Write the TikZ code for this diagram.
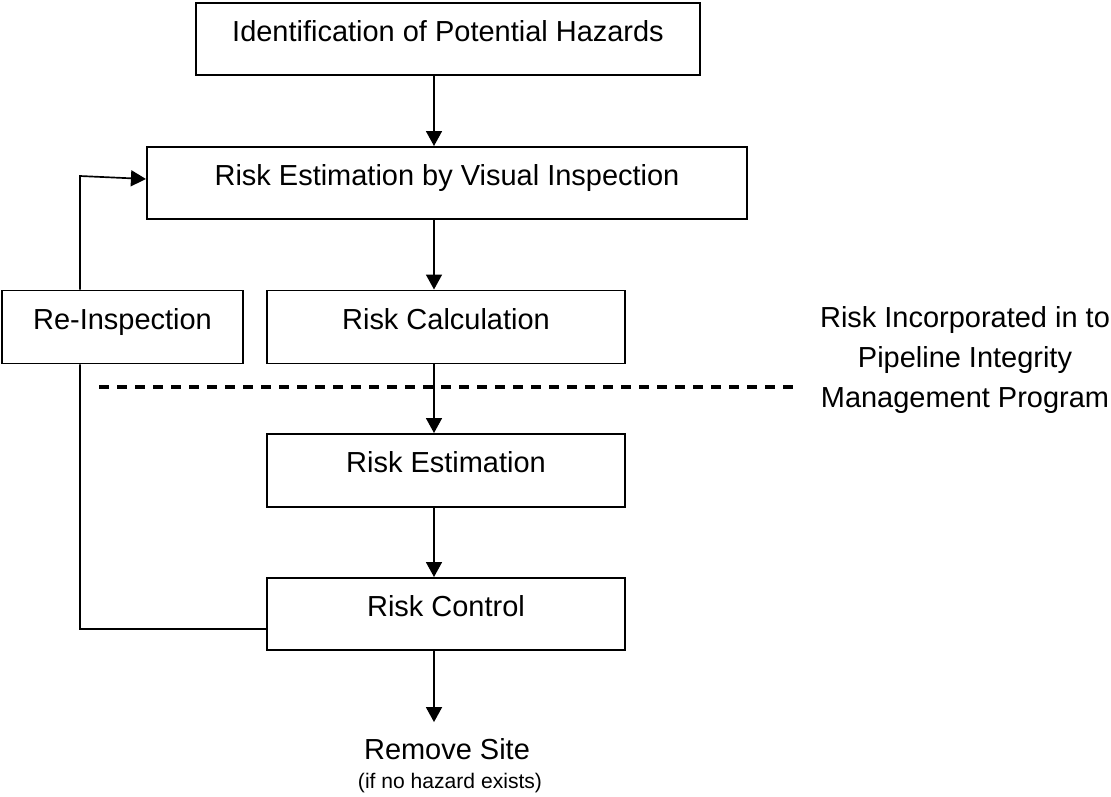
\documentclass[tikz,border=0pt]{standalone}
\usepackage{fontspec}
\setmainfont{Liberation Sans}
\usetikzlibrary{arrows.meta, positioning, calc}

\begin{document}
\begin{tikzpicture}[x=0.025cm, y=-0.025cm,
    box/.style={draw, line width=1.4pt, inner sep=0pt,
        font=\fontsize{20.6}{24}\selectfont,
        text height=15pt, text depth=11.6pt, minimum height=1.8cm},
    flow/.style={-{Triangle[width=0.4cm, length=0.375cm]}, line width=1.2pt},
    link/.style={line width=1.2pt}]
    \useasboundingbox (0,0) rectangle (1111,796);

    % Main column
    \node[box, minimum width=12.6cm] (haz) at (448,39) {Identification of Potential Hazards};
    \node[box, minimum width=15cm] (vis) at (447,183) {Risk Estimation by Visual Inspection};
    \node[box, minimum width=6.025cm, minimum height=1.825cm] (reinsp) at (122.5,327) {Re-Inspection};
    \node[box, minimum width=8.95cm, minimum height=1.825cm] (calc) at (446,327) {Risk Calculation};
    \node[box, minimum width=8.95cm, minimum height=1.825cm] (est) at (446,470.5) {Risk Estimation};
    \node[box, minimum width=8.95cm] (ctrl) at (446,614) {Risk Control};

    % End of the flow
    \node[inner sep=0pt, font=\fontsize{20.6}{24}\selectfont] (rem) at (447,749) {Remove Site};
    \node[inner sep=0pt, font=\fontsize{15}{18}\selectfont] (remnote) at (450,783) {(if no hazard exists)};

    % Program boundary
    \draw[line width=2.8pt, dash pattern=on 0.25cm off 0.2cm] (99,387) -- (800,387);
    \node[align=center, font=\fontsize{20.6}{28.5}\selectfont] (prog) at (965,360)
        {Risk Incorporated in to\\Pipeline Integrity\\Management Program};

    % Arrows down the column
    \coordinate (axis) at (434,0);
    \draw[flow] (haz.south -| axis) -- (vis.north -| axis);
    \draw[flow] (vis.south -| axis) -- (calc.north -| axis);
    \draw[flow] (calc.south -| axis) -- (est.north -| axis);
    \draw[flow] (est.south -| axis) -- (ctrl.north -| axis);
    \draw[flow, shorten >=0.4cm] (ctrl.south -| axis) -- (rem.north -| axis);

    % Feedback loop
    \coordinate (fbbot) at (80,629);
    \coordinate (fbtop) at (80,176);
    \draw[link] ([yshift=-0.375cm]ctrl.west) -- (fbbot) -- (reinsp.south -| fbbot);
    \draw[flow] (reinsp.north -| fbbot) -- (fbtop) -- ([yshift=0.1cm]vis.west);
\end{tikzpicture}
\end{document}
